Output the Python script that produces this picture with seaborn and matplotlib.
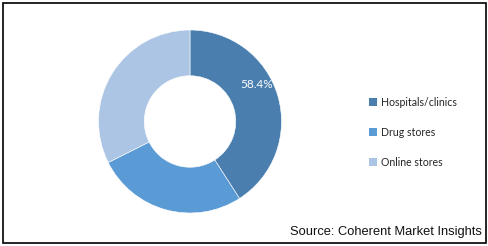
import matplotlib
matplotlib.use("Agg")
import matplotlib.pyplot as plt
import seaborn as sns
from matplotlib.patches import Rectangle, Patch

categories = ["Hospitals/clinics", "Drug stores", "Online stores"]
shares = [40.9, 26.7, 32.4]
label_text = "58.4%"
colors = ["#4A7EAF", "#5A9AD5", "#ADC5E5"]
source = "Source: Coherent Market Insights"

sns.set_theme(style="white")
plt.rcParams["font.family"] = ["Lato", "DejaVu Sans"]

W, H = 489, 246
fig = plt.figure(figsize=(W / 100, H / 100), dpi=100)
cx, cy, r = 190, 121.5, 91.5
ax = fig.add_axes([(cx - r) / W, (H - cy - r) / H, 2 * r / W, 2 * r / H])
wedges, _ = ax.pie(shares, colors=colors, startangle=90, counterclock=False,
                   radius=1, wedgeprops=dict(width=0.5, edgecolor="white", linewidth=0.4))
ax.set_xlim(-1, 1)
ax.set_ylim(-1, 1)
ax.set_aspect("equal")
ax.axis("off")

ax.text(0.73, 0.4, label_text, color="white", fontsize=8.5, ha="center", va="center")

handles = [Patch(facecolor=c, edgecolor="none") for c in colors]
fig.legend(handles, categories, loc="center left", bbox_to_anchor=(369 / W, 1 - 132.5 / H),
           frameon=False, fontsize=7.6, handlelength=0.75, handleheight=0.75,
           handletextpad=0.4, labelspacing=1.8, borderaxespad=0, borderpad=0)

fig.text(482 / W, 1 - 232 / H, source, ha="right", va="center", fontsize=9.3,
         family=["Liberation Sans", "DejaVu Sans"], color="#111111")

fig.patches.append(Rectangle((2.5 / W, 3 / H), (486 - 2.5) / W, (243.5 - 3) / H,
                             transform=fig.transFigure, fill=False, edgecolor="black",
                             linewidth=1.2, figure=fig))

fig.savefig("out.png", dpi=100)
